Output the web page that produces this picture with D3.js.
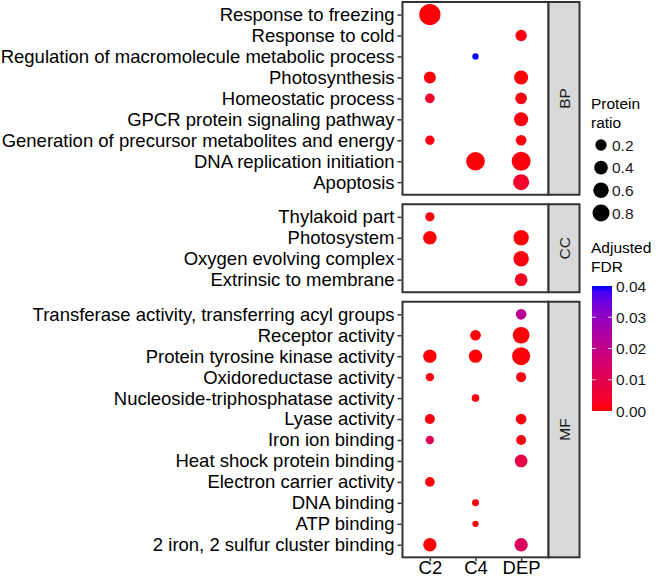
<!DOCTYPE html>
<html>
<head>
<meta charset="utf-8">
<script src="https://cdn.jsdelivr.net/npm/d3@7/dist/d3.min.js"></script>
<style>
  html, body { margin: 0; padding: 0; background: #fff; }
  svg { display: block; }
  text { font-family: "Liberation Sans", Arial, Helvetica, sans-serif; }
</style>
</head>
<body>
<script>
// ---------- DATA ----------
const groups = ["C2", "C4", "DEP"];

const bpTerms = ["Response to freezing", "Response to cold", "Regulation of macromolecule metabolic process",
  "Photosynthesis", "Homeostatic process", "GPCR protein signaling pathway",
  "Generation of precursor metabolites and energy", "DNA replication initiation", "Apoptosis"];
const ccTerms = ["Thylakoid part", "Photosystem", "Oxygen evolving complex", "Extrinsic to membrane"];
const mfTerms = ["Transferase activity, transferring acyl groups", "Receptor activity",
  "Protein tyrosine kinase activity", "Oxidoreductase activity", "Nucleoside-triphosphatase activity",
  "Lyase activity", "Iron ion binding", "Heat shock protein binding", "Electron carrier activity",
  "DNA binding", "ATP binding", "2 iron, 2 sulfur cluster binding"];

// [term, group, protein ratio, adjusted FDR]
const bpPoints = [
  ["Response to freezing", "C2", 1.52, 0.0005],
  ["Response to cold", "DEP", 0.20, 0.001],
  ["Regulation of macromolecule metabolic process", "C4", 0.003, 0.04],
  ["Photosynthesis", "C2", 0.25, 0.0005],
  ["Photosynthesis", "DEP", 0.44, 0.0005],
  ["Homeostatic process", "C2", 0.10, 0.005],
  ["Homeostatic process", "DEP", 0.23, 0.001],
  ["GPCR protein signaling pathway", "DEP", 0.44, 0.001],
  ["Generation of precursor metabolites and energy", "C2", 0.086, 0.001],
  ["Generation of precursor metabolites and energy", "DEP", 0.16, 0.001],
  ["DNA replication initiation", "C4", 1.05, 0.0005],
  ["DNA replication initiation", "DEP", 1.08, 0.001],
  ["Apoptosis", "DEP", 0.67, 0.004]
];
const ccPoints = [
  ["Thylakoid part", "C2", 0.086, 0.001],
  ["Photosystem", "C2", 0.40, 0.0005],
  ["Photosystem", "DEP", 0.59, 0.0005],
  ["Oxygen evolving complex", "DEP", 0.59, 0.001],
  ["Extrinsic to membrane", "DEP", 0.31, 0.003]
];
const mfPoints = [
  ["Transferase activity, transferring acyl groups", "DEP", 0.16, 0.022],
  ["Receptor activity", "C4", 0.16, 0.0005],
  ["Receptor activity", "DEP", 0.76, 0.0005],
  ["Protein tyrosine kinase activity", "C2", 0.37, 0.0005],
  ["Protein tyrosine kinase activity", "C4", 0.37, 0.0005],
  ["Protein tyrosine kinase activity", "DEP", 0.95, 0.0005],
  ["Oxidoreductase activity", "C2", 0.046, 0.001],
  ["Oxidoreductase activity", "DEP", 0.12, 0.001],
  ["Nucleoside-triphosphatase activity", "C4", 0.026, 0.001],
  ["Lyase activity", "C2", 0.12, 0.001],
  ["Lyase activity", "DEP", 0.16, 0.001],
  ["Iron ion binding", "C2", 0.046, 0.011],
  ["Iron ion binding", "DEP", 0.12, 0.001],
  ["Heat shock protein binding", "DEP", 0.31, 0.008],
  ["Electron carrier activity", "C2", 0.10, 0.001],
  ["DNA binding", "C4", 0.012, 0.001],
  ["ATP binding", "C4", 0.003, 0.001],
  ["2 iron, 2 sulfur cluster binding", "C2", 0.37, 0.0005],
  ["2 iron, 2 sulfur cluster binding", "DEP", 0.37, 0.012]
];

const panelNames = ["BP", "CC", "MF"];
const sizeBreaks = [0.2, 0.4, 0.6, 0.8];
const fdrBreaks = [0.00, 0.01, 0.02, 0.03, 0.04];

// ---------- LAYOUT ----------
const W = 661, H = 577;
const px0 = 402.5, px1 = 548.5;
const stripW = 31;
const rowStep = 20.95;
const gap = 9.5;
const top0 = 2;
const axisFont = 18.5;
const smallFont = 15.5;
const dark = "#333333";

const svg = d3.select("body").append("svg").attr("width", W).attr("height", H);

const x = d3.scalePoint().domain(groups).range([px0, px1]).padding(0.6);
const r = d3.scaleSqrt().domain([0, 1.6]).range([2.8, 10.85]);
const color = d3.scaleLinear().domain([0, 0.04]).range(["#ff0000", "#0000ff"]).interpolate(d3.interpolateLab);

const panels = [
  { name: panelNames[0], terms: bpTerms, points: bpPoints },
  { name: panelNames[1], terms: ccTerms, points: ccPoints },
  { name: panelNames[2], terms: mfTerms, points: mfPoints }
];

let yTop = top0;
panels.forEach((p, i) => {
  const h = (p.terms.length - 1 + 1.2) * rowStep;
  const y = d3.scalePoint().domain(p.terms).range([yTop, yTop + h]).padding(0.6);
  const g = svg.append("g");

  g.append("rect").attr("x", px0).attr("y", yTop).attr("width", px1 - px0).attr("height", h)
    .attr("fill", "#fff");

  g.selectAll("circle.pt").data(p.points).join("circle")
    .attr("class", "pt")
    .attr("cx", d => x(d[1]))
    .attr("cy", d => y(d[0]))
    .attr("r", d => r(d[2]))
    .attr("fill", d => color(d[3]));

  g.append("rect").attr("x", px0).attr("y", yTop).attr("width", px1 - px0).attr("height", h)
    .attr("fill", "none").attr("stroke", dark).attr("stroke-width", 2);

  const ya = g.append("g").attr("transform", `translate(${px0 - 1},0)`)
    .call(d3.axisLeft(y).tickSize(4).tickPadding(3));
  ya.select(".domain").remove();
  ya.selectAll(".tick line").attr("stroke", dark).attr("stroke-width", 1.5);
  ya.selectAll(".tick text").attr("font-size", axisFont).attr("fill", "#000")
    .attr("font-family", '"Liberation Sans", Arial, sans-serif');

  g.append("rect").attr("x", px1).attr("y", yTop).attr("width", stripW).attr("height", h)
    .attr("fill", "#d9d9d9").attr("stroke", dark).attr("stroke-width", 2);
  g.append("text")
    .attr("transform", `translate(${px1 + stripW / 2},${yTop + h / 2}) rotate(-90)`)
    .attr("text-anchor", "middle").attr("dominant-baseline", "central")
    .attr("font-size", smallFont).attr("fill", "#1a1a1a").text(p.name);

  if (i === panels.length - 1) {
    const xa = g.append("g").attr("transform", `translate(0,${yTop + h + 1})`)
      .call(d3.axisBottom(x).tickSize(3).tickPadding(0));
    xa.select(".domain").remove();
    xa.selectAll(".tick line").attr("stroke", dark).attr("stroke-width", 1.5);
    xa.selectAll(".tick text").attr("font-size", axisFont).attr("fill", "#000")
      .attr("font-family", '"Liberation Sans", Arial, sans-serif');
  }
  yTop += h + gap;
});

// ---------- SIZE LEGEND ----------
const lg = svg.append("g");
lg.append("text").attr("x", 591).attr("y", 109).attr("font-size", smallFont).text("Protein");
lg.append("text").attr("x", 591).attr("y", 128).attr("font-size", smallFont).text("ratio");
const sizeY = d3.scalePoint().domain(sizeBreaks).range([145, 213]);
lg.selectAll("circle").data(sizeBreaks).join("circle")
  .attr("cx", 601).attr("cy", d => sizeY(d)).attr("r", d => r(d)).attr("fill", "#000");
lg.selectAll("text.lab").data(sizeBreaks).join("text").attr("class", "lab")
  .attr("x", 612).attr("y", d => sizeY(d)).attr("dominant-baseline", "central")
  .attr("font-size", smallFont).attr("fill", "#1a1a1a").text(d => d.toFixed(1));

// ---------- COLOR LEGEND ----------
const cg = svg.append("g");
cg.append("text").attr("x", 591).attr("y", 253).attr("font-size", smallFont).text("Adjusted");
cg.append("text").attr("x", 591).attr("y", 272).attr("font-size", smallFont).text("FDR");
const barX = 592, barW = 20, barTop = 286, barBot = 411;
const cy = d3.scaleLinear().domain([0, 0.04]).range([barBot, barTop]);
const defs = svg.append("defs");
const grad = defs.append("linearGradient").attr("id", "fdrGrad")
  .attr("x1", 0).attr("y1", 1).attr("x2", 0).attr("y2", 0);
d3.range(0, 1.0001, 0.05).forEach(t => {
  grad.append("stop").attr("offset", t).attr("stop-color", color(t * 0.04));
});
cg.append("rect").attr("x", barX).attr("y", barTop).attr("width", barW).attr("height", barBot - barTop)
  .attr("fill", "url(#fdrGrad)");
cg.selectAll("line.tl").data(fdrBreaks.slice(1, 4)).join("line").attr("class", "tl")
  .attr("x1", barX).attr("x2", barX + 4).attr("y1", d => cy(d)).attr("y2", d => cy(d))
  .attr("stroke", "#fff").attr("stroke-opacity", 0.8).attr("stroke-width", 1);
cg.selectAll("line.tr").data(fdrBreaks.slice(1, 4)).join("line").attr("class", "tr")
  .attr("x1", barX + barW - 4).attr("x2", barX + barW).attr("y1", d => cy(d)).attr("y2", d => cy(d))
  .attr("stroke", "#fff").attr("stroke-opacity", 0.8).attr("stroke-width", 1);
cg.selectAll("text.fl").data(fdrBreaks).join("text").attr("class", "fl")
  .attr("x", barX + barW + 4).attr("y", d => cy(d)).attr("dominant-baseline", "central")
  .attr("font-size", smallFont).attr("fill", "#1a1a1a").text(d => d.toFixed(2));
</script>
</body>
</html>
